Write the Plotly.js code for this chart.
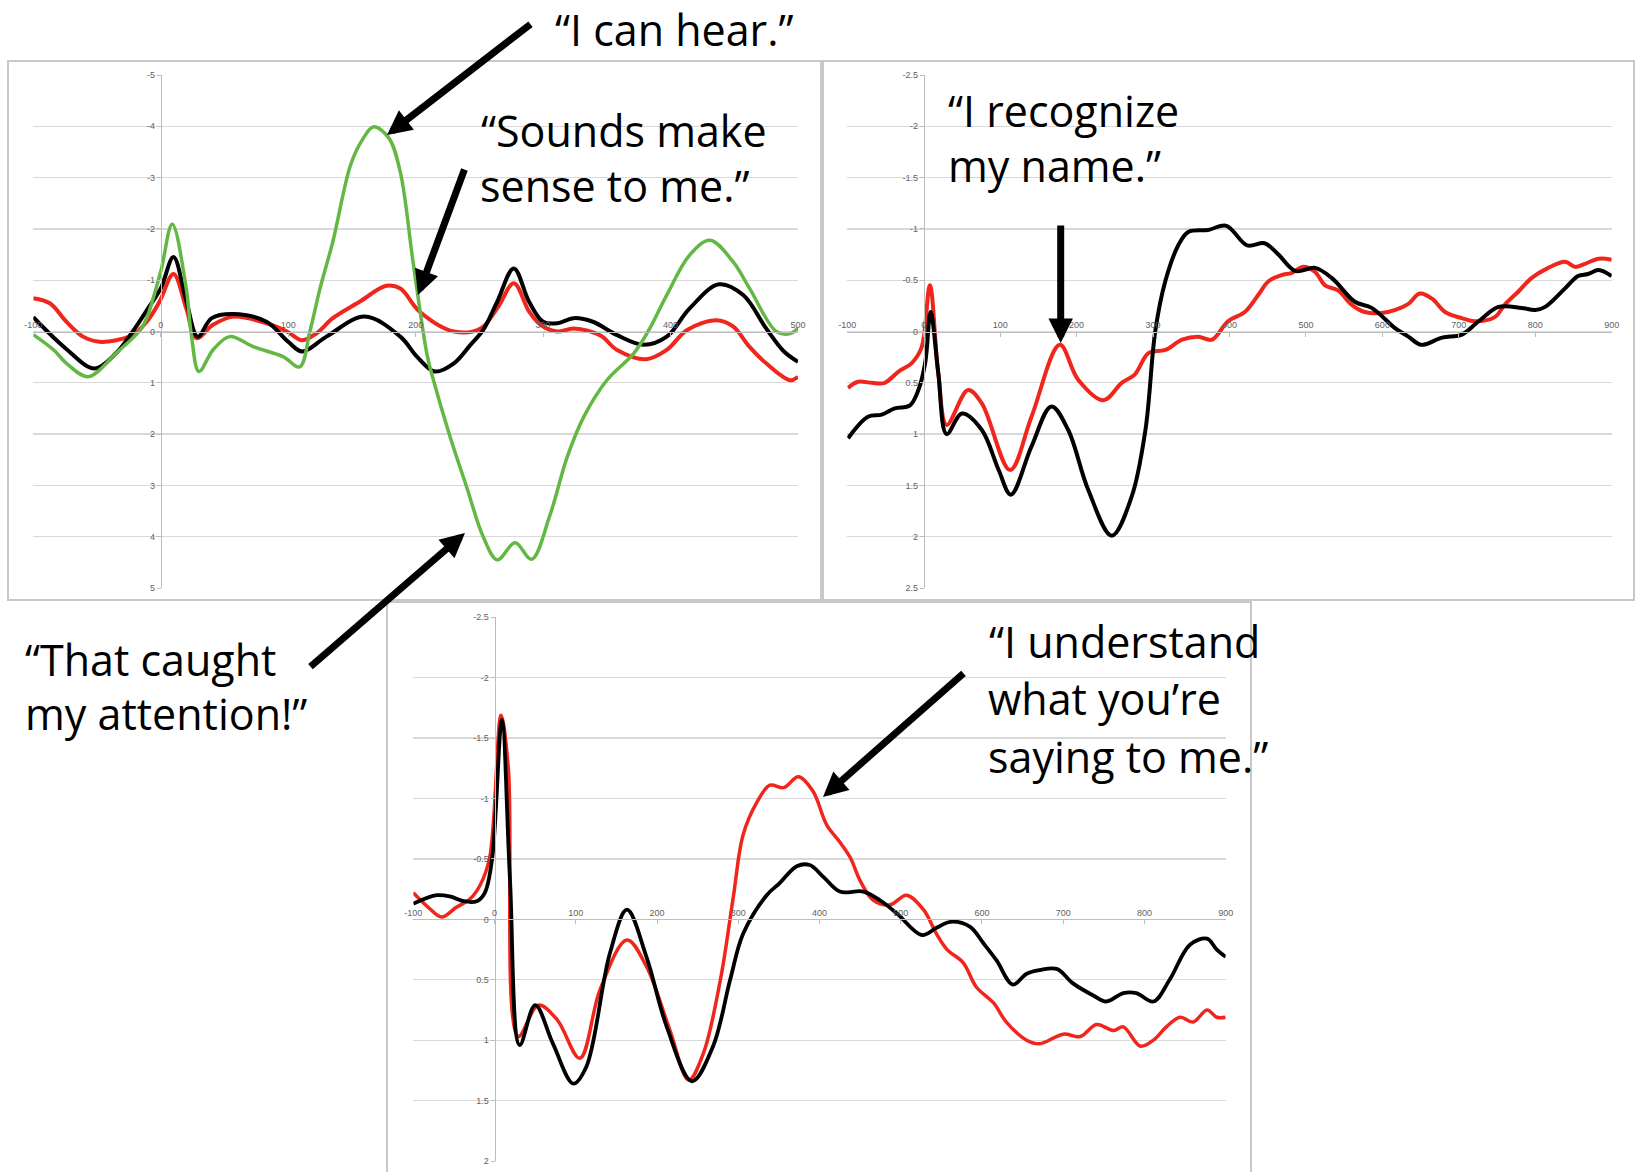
<!DOCTYPE html>
<html>
<head>
<meta charset="utf-8">
<script src="https://cdn.plot.ly/plotly-3.0.1.min.js"></script>
<style>html,body{margin:0;padding:0;background:#fff;}#chart{width:1636px;height:1172px;}</style>
</head>
<body>
<div id="chart"></div>
<script>
// ---------- Panel A (top-left): time (ms) vs amplitude ----------
const aBlackX = [-100,-75,-52,-35,-22,-10,0,10,20,29,40,57,83,100,111,130,160,188,201,215,230,243,253,264,277,289,300,311,324,339,358,379,397,415,438,457,475,489,500];
const aBlackY = [-0.28,0.32,0.72,0.42,0.0,-0.45,-0.84,-1.45,-0.6,0.1,-0.26,-0.34,-0.19,0.2,0.39,0.1,-0.29,0.1,0.49,0.78,0.62,0.26,-0.03,-0.58,-1.23,-0.58,-0.19,-0.16,-0.26,-0.19,0.07,0.26,0.1,-0.45,-0.92,-0.71,-0.06,0.39,0.59];
const aRedX = [-100,-87,-74,-61,-48,-35,-22,-11,-1,10,20,28,41,57,83,99,111,122,135,156,177,188,203,230,251,264,277,289,298,311,324,345,358,381,397,413,436,449,462,475,494,500];
const aRedY = [-0.65,-0.55,-0.19,0.1,0.2,0.17,0.07,-0.19,-0.58,-1.12,-0.45,0.13,-0.13,-0.29,-0.16,0,0.17,0.04,-0.26,-0.58,-0.89,-0.84,-0.39,0,-0.06,-0.45,-0.94,-0.39,-0.13,0,-0.06,0.08,0.36,0.54,0.36,-0.03,-0.22,-0.1,0.3,0.62,0.95,0.88];
const aGreenX = [-100,-84,-74,-57,-35,-16,-11,0,9,20,24,30,41,54,73,96,109,117,125,135,149,158,167,179,188,198,209,214,227,240,253,264,278,291,305,319,332,350,371,383,397,415,431,449,462,483,494,500];
const aGreenY = [0.06,0.36,0.62,0.88,0.42,-0.03,-0.26,-1.17,-2.09,-0.84,0.07,0.78,0.36,0.1,0.3,0.49,0.69,0,-0.84,-1.75,-3.25,-3.73,-3.99,-3.77,-3.1,-1.35,0.46,0.95,2.05,3.03,4.0,4.45,4.12,4.44,3.61,2.44,1.66,0.95,0.43,-0.03,-0.71,-1.49,-1.78,-1.36,-0.84,0,0.04,-0.07];
const aXTicks = [-100,0,100,200,300,400,500];
const aXTickText = ['-100','0','100','200','300','400','500'];
const aYTicks = [-5,-4,-3,-2,-1,0,1,2,3,4,5];
const aYTickText = ['-5','-4','-3','-2','-1','0','1','2','3','4','5'];

// ---------- Panel B (top-right) ----------
const bBlackX = [-99,-73,-55,-38,-18,-7,2,9,19,30,50,76,98,114,141,167,189,215,246,272,290,303,316,333,346,372,396,423,446,464,486,512,534,564,586,617,634,651,678,704,726,752,782,800,813,839,856,869,883,900];
const bBlackY = [1.04,0.83,0.81,0.75,0.72,0.57,0.3,-0.19,0.4,1.0,0.8,0.96,1.35,1.59,1.12,0.73,0.96,1.54,1.99,1.61,0.96,-0.01,-0.49,-0.84,-0.97,-0.99,-1.03,-0.84,-0.86,-0.75,-0.59,-0.62,-0.52,-0.29,-0.23,-0.03,0.05,0.13,0.06,0.03,-0.1,-0.24,-0.23,-0.21,-0.24,-0.42,-0.54,-0.56,-0.6,-0.54];
const bRedX = [-99,-86,-68,-51,-33,-16,-3,8,19,30,58,76,113,141,178,202,235,259,276,294,316,338,359,377,398,420,438,451,468,481,497,512,525,542,560,577,599,617,634,649,665,682,704,721,747,760,778,795,817,839,852,865,883,900];
const bRedY = [0.55,0.49,0.5,0.5,0.39,0.31,0.16,-0.45,0.41,0.91,0.57,0.7,1.35,0.83,0.13,0.47,0.67,0.5,0.42,0.21,0.18,0.08,0.05,0.08,-0.1,-0.19,-0.36,-0.49,-0.55,-0.57,-0.63,-0.58,-0.45,-0.4,-0.26,-0.19,-0.18,-0.21,-0.27,-0.37,-0.32,-0.19,-0.13,-0.1,-0.14,-0.26,-0.39,-0.52,-0.62,-0.68,-0.63,-0.66,-0.71,-0.7];
const bXTicks = [-100,0,100,200,300,400,500,600,700,800,900];
const bXTickText = ['-100','0','100','200','300','400','500','600','700','800','900'];
const bYTicks = [-2.5,-2,-1.5,-1,-0.5,0,0.5,1,1.5,2,2.5];
const bYTickText = ['-2.5','-2','-1.5','-1','-0.5','0','0.5','1','1.5','2','2.5'];

// ---------- Panel C (bottom) ----------
const cBlackX = [-100,-71,-55,-38,-22,-12,-3,9,19,31,50,72,97,113,142,163,187,212,243,269,290,306,335,351,372,388,405,425,454,474,495,526,544,561,585,602,618,638,655,671,692,712,737,753,774,790,811,831,856,877,889,900];
const cBlackY = [-0.13,-0.2,-0.19,-0.15,-0.15,-0.22,-0.5,-1.65,-0.33,1.04,0.71,1.03,1.36,1.22,0.28,-0.08,0.31,0.89,1.34,1.05,0.5,0.12,-0.2,-0.3,-0.44,-0.45,-0.35,-0.23,-0.23,-0.16,-0.05,0.13,0.07,0.02,0.06,0.2,0.34,0.54,0.45,0.42,0.41,0.53,0.63,0.68,0.61,0.61,0.68,0.5,0.21,0.16,0.25,0.31];
const cRedX = [-100,-80,-65,-47,-30,-18,-6,8,17,29,54,77,105,130,163,187,216,239,257,278,294,306,323,339,356,374,392,409,425,438,450,466,487,507,528,544,557,577,593,614,630,655,671,700,721,741,762,774,795,811,827,844,860,877,889,900];
const cRedY = [-0.22,-0.09,-0.02,-0.1,-0.17,-0.28,-0.51,-1.69,-1.25,0.97,0.71,0.83,1.15,0.58,0.17,0.39,0.92,1.33,1.11,0.5,-0.19,-0.7,-0.97,-1.11,-1.09,-1.18,-1.06,-0.78,-0.64,-0.51,-0.32,-0.16,-0.12,-0.2,-0.08,0.12,0.25,0.36,0.56,0.69,0.85,1.0,1.03,0.95,0.97,0.87,0.92,0.89,1.05,1.0,0.89,0.81,0.85,0.75,0.81,0.81];
const cXTicks = [-100,0,100,200,300,400,500,600,700,800,900];
const cXTickText = ['-100','0','100','200','300','400','500','600','700','800','900'];
const cYTicks = [-2.5,-2,-1.5,-1,-0.5,0,0.5,1,1.5,2];
const cYTickText = ['-2.5','-2','-1.5','-1','-0.5','0','0.5','1','1.5','2'];

// ---------- Callout texts ----------
const calloutLines = [
  '\u201cI can hear.\u201d',
  '\u201cSounds make', 'sense to me.\u201d',
  '\u201cI recognize', 'my name.\u201d',
  '\u201cThat caught', 'my attention!\u201d',
  '\u201cI understand', 'what you\u2019re', 'saying to me.\u201d'
];

// ---------- Layout helpers ----------
const W = 1636, H = 1172;
const fx = p => p / W;
const fy = p => 1 - p / H;

const RED = '#f0261c', GREEN = '#62b843', BLACK = '#000000';
const GRID = '#d9d9d9', AXLINE = '#bdbdbd', TICKC = '#5f5f5f';

function panel(xr, yr, xd, yd, xt, xtt, yt, ytt) {
  const xdom = [fx(xd[0]), fx(xd[1])];
  const ydom = [fy(yd[1]), fy(yd[0])];
  const xZeroFrac = (0 - xr[0]) / (xr[1] - xr[0]);
  const yZeroFrac = (0 - yr[0]) / (yr[1] - yr[0]);
  const xa = {
    domain: xdom, range: xr, anchor: 'free',
    position: ydom[0] + yZeroFrac * (ydom[1] - ydom[0]),
    side: 'top', showgrid: false, zeroline: false,
    showline: true, linecolor: AXLINE, linewidth: 1,
    ticks: 'inside', ticklen: 4, tickcolor: AXLINE,
    tickvals: xt, ticktext: xtt,
    tickfont: {family: 'Liberation Sans', size: 9, color: TICKC}
  };
  const ya = {
    domain: ydom, range: yr, anchor: 'free',
    position: xdom[0] + xZeroFrac * (xdom[1] - xdom[0]),
    side: 'left', showgrid: true, gridcolor: GRID, gridwidth: 1.3,
    zeroline: false, showline: true, linecolor: AXLINE, linewidth: 1,
    ticks: 'outside', ticklen: 4, tickcolor: AXLINE,
    tickvals: yt, ticktext: ytt,
    tickfont: {family: 'Liberation Sans', size: 9, color: TICKC}
  };
  return {xa, ya};
}

const pA = panel([-100, 500], [5, -5], [33.3, 798], [75, 588], aXTicks, aXTickText, aYTicks, aYTickText);
const pB = panel([-100, 900], [2.5, -2.5], [847.3, 1611.7], [75, 588], bXTicks, bXTickText, bYTicks, bYTickText);
const pC = panel([-100, 900], [2, -2.5], [413.3, 1225.7], [617.3, 1161], cXTicks, cXTickText, cYTicks, cYTickText);

function tr(x, y, color, w, xa, ya) {
  return {x: x, y: y, xaxis: xa, yaxis: ya, type: 'scatter', mode: 'lines',
          line: {color: color, width: w, shape: 'spline', smoothing: 1},
          hoverinfo: 'skip', showlegend: false};
}

const data = [
  tr(aRedX, aRedY, RED, 4, 'x', 'y'),
  tr(aBlackX, aBlackY, BLACK, 4, 'x', 'y'),
  tr(aGreenX, aGreenY, GREEN, 3.5, 'x', 'y'),
  tr(bRedX, bRedY, RED, 4, 'x2', 'y2'),
  tr(bBlackX, bBlackY, BLACK, 4, 'x2', 'y2'),
  tr(cRedX, cRedY, RED, 3.5, 'x3', 'y3'),
  tr(cBlackX, cBlackY, BLACK, 3.8, 'x3', 'y3')
];

const FONT = {family: '"Open Sans", "Noto Sans", sans-serif', size: 43, color: '#000'};
const off = 0.388 * FONT.size;
// [text index, left px, baseline px]
const textPos = [
  [0, 553, 46],
  [1, 479, 146.7], [2, 478, 201.7],
  [3, 946, 126.7], [4, 946, 181.7],
  [5, 23, 676], [6, 23, 730],
  [7, 987, 658.3], [8, 986, 715], [9, 986, 773]
];
const annotations = textPos.map(t => ({
  xref: 'paper', yref: 'paper', x: fx(t[1]), y: fy(t[2] - off),
  xanchor: 'left', yanchor: 'middle', text: calloutLines[t[0]],
  showarrow: false, font: FONT
}));

// arrows: [tip x, tip y, tail x, tail y] in pixels
const arrows = [
  [387, 135, 532, 23],
  [418, 295, 465, 168],
  [465, 533, 309, 668],
  [1060.7, 343, 1060.7, 224],
  [823, 797, 965, 672]
];
arrows.forEach(a => annotations.push({
  xref: 'paper', yref: 'paper', x: fx(a[0]), y: fy(a[1]),
  ax: a[2] - a[0], ay: a[3] - a[1], text: '', showarrow: true,
  arrowhead: 2, arrowsize: 0.7, arrowwidth: 7, arrowcolor: '#000', standoff: 0
}));

const FRAME = {color: '#c8c8c8', width: 2};
const shapes = [
  {type: 'rect', xref: 'paper', yref: 'paper', x0: fx(8), x1: fx(821), y0: fy(600), y1: fy(61), line: FRAME, layer: 'below'},
  {type: 'rect', xref: 'paper', yref: 'paper', x0: fx(823), x1: fx(1634), y0: fy(600), y1: fy(61), line: FRAME, layer: 'below'},
  {type: 'rect', xref: 'paper', yref: 'paper', x0: fx(387), x1: fx(1251), y0: fy(1180), y1: fy(602), line: FRAME, layer: 'below'}
];

const layout = {
  width: W, height: H,
  margin: {l: 0, r: 0, t: 0, b: 0, pad: 0},
  paper_bgcolor: '#fff', plot_bgcolor: 'rgba(0,0,0,0)',
  showlegend: false,
  xaxis: pA.xa, yaxis: pA.ya,
  xaxis2: pB.xa, yaxis2: pB.ya,
  xaxis3: pC.xa, yaxis3: pC.ya,
  annotations: annotations,
  shapes: shapes
};

Plotly.newPlot('chart', data, layout, {displayModeBar: false, staticPlot: true});
</script>
</body>
</html>
